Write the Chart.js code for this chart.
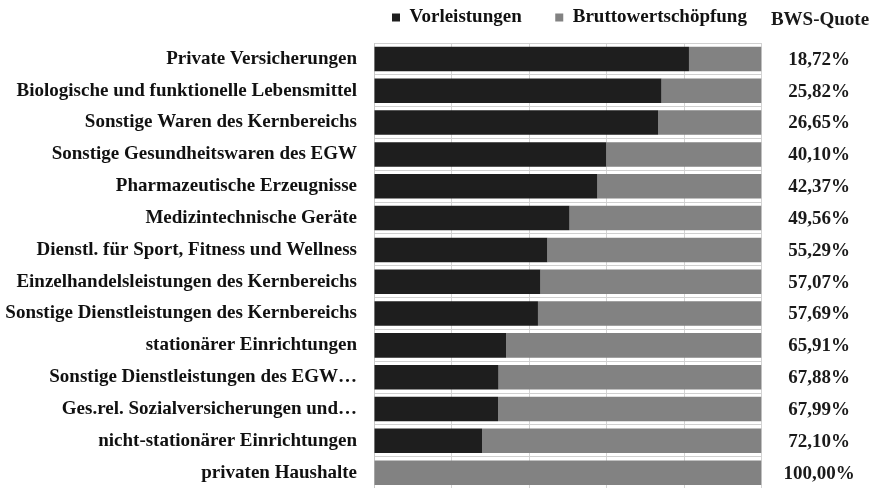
<!DOCTYPE html>
<html>
<head>
<meta charset="utf-8">
<script src="https://cdn.jsdelivr.net/npm/chart.js@4"></script>
<style>
html,body{margin:0;padding:0;background:#fff;overflow:hidden;}
#wrap{width:875px;height:517px;}
</style>
</head>
<body>
<div id="wrap"><canvas id="c" width="875" height="517"></canvas></div>
<script>
const categories = [
  "Private Versicherungen",
  "Biologische und funktionelle Lebensmittel",
  "Sonstige Waren des Kernbereichs",
  "Sonstige Gesundheitswaren des EGW",
  "Pharmazeutische Erzeugnisse",
  "Medizintechnische Geräte",
  "Dienstl. für Sport, Fitness und Wellness",
  "Einzelhandelsleistungen des Kernbereichs",
  "Sonstige Dienstleistungen des Kernbereichs",
  "stationärer Einrichtungen",
  "Sonstige Dienstleistungen des EGW…",
  "Ges.rel. Sozialversicherungen und…",
  "nicht-stationärer Einrichtungen",
  "privaten Haushalte"
];
const vorleistungen = [81.28, 74.18, 73.35, 59.90, 57.63, 50.44, 44.71, 42.93, 42.31, 34.09, 32.12, 32.01, 27.90, 0];
const bruttowertschoepfung = [18.72, 25.82, 26.65, 40.10, 42.37, 49.56, 55.29, 57.07, 57.69, 65.91, 67.88, 67.99, 72.10, 100.00];
const xTicks = [0, 20, 40, 60, 80, 100];
const quoteHeader = "BWS-Quote";

const FONT = "'Liberation Serif', 'Times New Roman', serif";

const quotePlugin = {
  id: 'quote',
  afterLayout(chart) {
    const lg = chart.legend;
    if (lg) {
      const w = lg.right - lg.left;
      lg.left = 358.5;
      lg.right = 358.5 + w;
      lg.top = -25.5;
    }
  },
  afterDraw(chart) {
    const ctx = chart.ctx;
    const y = chart.scales.y;
    ctx.save();
    ctx.fillStyle = '#1a1a1a';
    ctx.font = "bold 19px " + FONT;
    ctx.textAlign = 'center';
    ctx.textBaseline = 'middle';
    ctx.fillText(quoteHeader, 820, 20);
    bruttowertschoepfung.forEach((v, i) => {
      const txt = v.toFixed(2).replace('.', ',') + '%';
      ctx.fillText(txt, 819, y.getPixelForValue(i) + 1);
    });
    ctx.restore();
  }
};

new Chart(document.getElementById('c'), {
  type: 'bar',
  data: {
    labels: categories,
    datasets: [
      { label: 'Vorleistungen', data: vorleistungen, backgroundColor: '#1e1e1e', borderWidth: 0 },
      { label: 'Bruttowertschöpfung', data: bruttowertschoepfung, backgroundColor: '#828282', borderWidth: 0 }
    ]
  },
  options: {
    indexAxis: 'y',
    responsive: false,
    animation: false,
    maintainAspectRatio: false,
    layout: { padding: { left: 0, right: 113.5, top: 0, bottom: 0 } },
    datasets: { bar: { barPercentage: 0.77, categoryPercentage: 1.0 } },
    scales: {
      x: {
        stacked: true,
        min: 0, max: 100,
        afterBuildTicks: (s) => { s.ticks = xTicks.map(v => ({ value: v })); },
        afterFit: (s) => { s.height = 0; },
        ticks: { display: false },
        grid: { color: '#d4d4d4', drawTicks: false },
        border: { display: false }
      },
      y: {
        stacked: true,
        afterFit: (s) => { s.width = 374; },
        ticks: {
          padding: 17,
          color: '#111',
          font: { family: FONT, size: 19, weight: 'bold' }
        },
        grid: { color: '#d0d0d0', drawTicks: false, offset: true },
        border: { display: true, color: '#c8c8c8' }
      }
    },
    plugins: {
      legend: {
        display: true,
        position: 'top',
        align: 'start',
        maxHeight: 43,
        labels: {
          boxWidth: 8,
          boxHeight: 8,
          padding: 33.5,
          color: '#111',
          font: { family: FONT, size: 19, weight: 'bold' }
        }
      },
      tooltip: { enabled: false }
    }
  },
  plugins: [quotePlugin]
});
</script>
</body>
</html>
